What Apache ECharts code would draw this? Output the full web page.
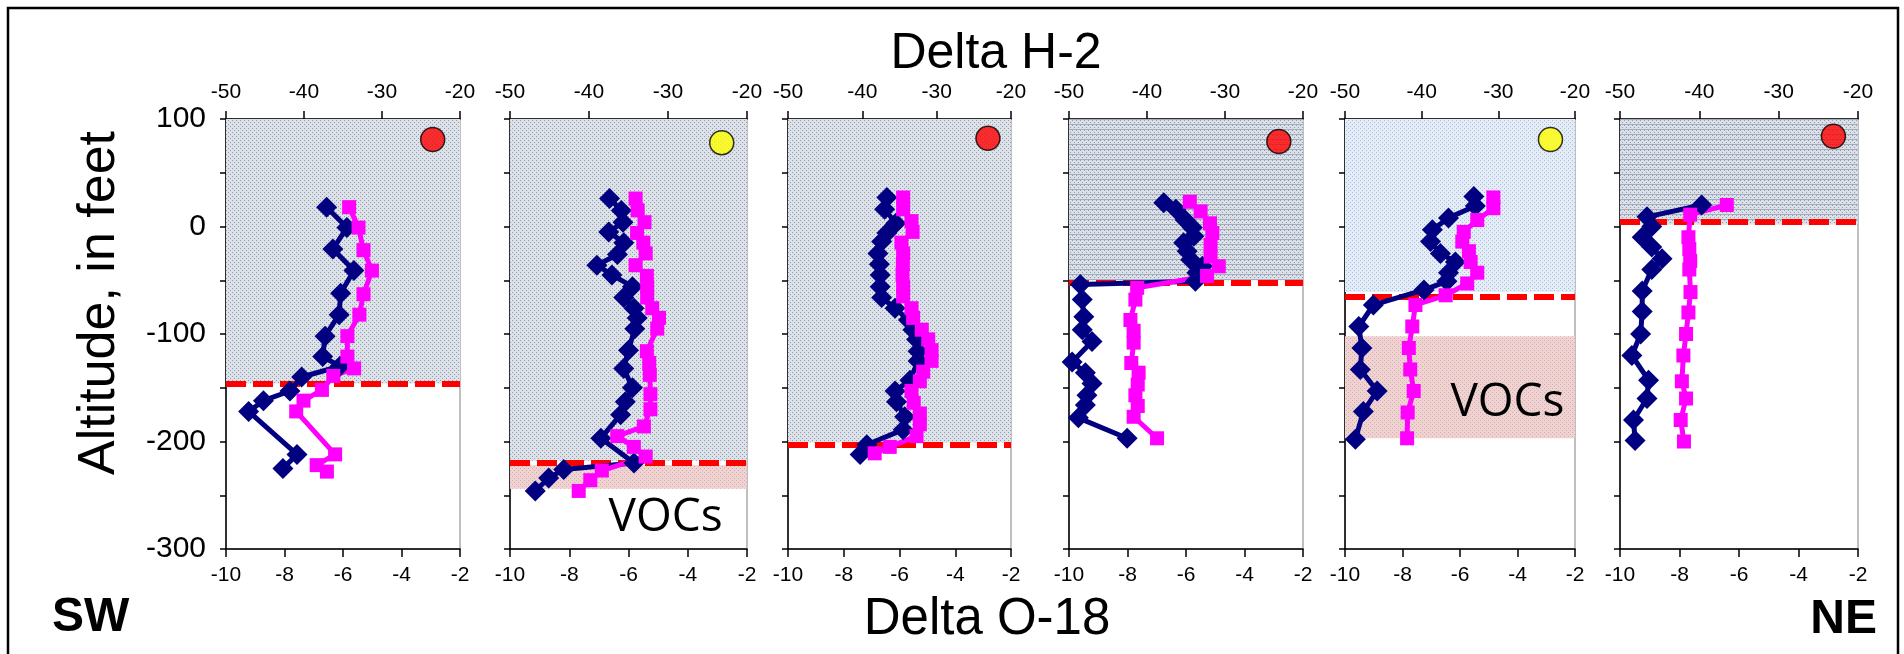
<!DOCTYPE html>
<html><head><meta charset="utf-8">
<script src="https://cdn.jsdelivr.net/npm/echarts@6.0.0/dist/echarts.min.js"></script>
<style>html,body{margin:0;padding:0;background:#fff}#c{width:1904px;height:654px}</style>
</head><body><div id="c"></div>
<script>
// ---------- DATA ----------
// Delta H-2 (top axis) vs altitude (ft) -- navy diamonds
const h2_p1 = [[-37.1,18],[-34.5,-1],[-36.3,-21],[-33.6,-41],[-35.3,-62],[-35.5,-82],[-37.3,-102],[-37.6,-121],[-35.4,-130],[-40.3,-140],[-41.8,-153],[-45.2,-162],[-47.1,-172],[-40.9,-212],[-42.7,-225]];
const h2_p2 = [[-37.4,26],[-35.9,15],[-35.7,4],[-37.5,-5],[-35.6,-15],[-36.4,-26],[-39.0,-36],[-37.1,-45],[-34.5,-56],[-35.6,-66],[-34.3,-76],[-33.9,-85],[-34.2,-95],[-35.0,-115],[-35.6,-132],[-34.5,-150],[-35.4,-163],[-36.0,-175],[-38.5,-197],[-34.3,-220],[-43.2,-226],[-45.1,-234],[-46.8,-246]];
const h2_p3 = [[-36.7,27],[-37.0,16],[-35.5,3],[-36.7,-6],[-37.4,-14],[-37.9,-25],[-37.7,-35],[-37.6,-45],[-37.6,-56],[-37.4,-66],[-35.6,-76],[-33.8,-87],[-33.2,-96],[-32.7,-105],[-32.5,-116],[-32.5,-125],[-33.6,-143],[-35.6,-153],[-35.4,-163],[-34.3,-177],[-34.5,-189],[-39.4,-203],[-40.3,-212]];
const h2_p4 = [[-37.85,22],[-36.3,16],[-35.1,6],[-34.2,-1],[-34.0,-9],[-35.3,-15],[-34.85,-23],[-34.4,-31],[-32.9,-37],[-33.6,-43],[-33.8,-51],[-48.55,-54],[-48.3,-68],[-48.1,-84],[-48.3,-96],[-47.05,-107],[-49.6,-126],[-47.9,-136],[-47.05,-146],[-47.7,-157],[-47.9,-166],[-48.8,-178],[-42.55,-197]];
const h2_p5 = [[-33.2,28],[-33.0,19],[-36.5,8],[-38.6,-3],[-38.85,-14],[-37.55,-25],[-35.6,-33],[-36.5,-43],[-36.7,-51],[-39.7,-59],[-46.3,-73],[-48.2,-93],[-47.8,-113],[-48.0,-133],[-45.8,-153],[-47.6,-172],[-48.65,-198]];
const h2_p6 = [[-39.7,20],[-46.6,9],[-46.0,0],[-47.2,-10],[-46.0,-19],[-44.7,-30],[-46.0,-40],[-47.2,-60],[-47.2,-79],[-47.4,-100],[-48.5,-120],[-46.4,-143],[-46.6,-160],[-48.3,-180],[-48.1,-199]];
// Delta O-18 (bottom axis) vs altitude (ft) -- magenta squares
const o18_p1 = [[-5.79,18],[-5.47,-1],[-5.30,-22],[-5.01,-41],[-5.30,-63],[-5.44,-82],[-5.85,-102],[-5.85,-121],[-5.62,-132],[-6.33,-139],[-6.72,-152],[-7.35,-162],[-7.60,-172],[-6.27,-212],[-6.9,-222],[-6.55,-228]];
const o18_p2 = [[-5.76,26],[-5.69,15],[-5.46,4],[-5.71,-6],[-5.50,-15],[-5.42,-25],[-5.76,-36],[-5.38,-46],[-5.37,-56],[-5.37,-66],[-5.2,-76],[-4.97,-85],[-5.03,-95],[-5.38,-116],[-5.3,-127],[-5.28,-138],[-5.26,-156],[-5.26,-170],[-5.48,-186],[-6.38,-195],[-5.82,-205],[-5.42,-214],[-6.9,-227],[-7.29,-236],[-7.68,-246]];
const o18_p3 = [[-5.87,27],[-5.87,16],[-5.57,5],[-5.53,-5],[-5.93,-15],[-5.87,-25],[-5.88,-35],[-5.89,-45],[-5.87,-56],[-5.87,-65],[-5.57,-76],[-5.51,-85],[-5.2,-96],[-4.97,-105],[-4.85,-115],[-4.85,-125],[-5.15,-135],[-5.27,-144],[-5.57,-153],[-5.49,-164],[-5.27,-174],[-5.27,-184],[-5.39,-195],[-6.35,-205],[-6.89,-211]];
const o18_p4 = [[-5.87,23],[-5.50,14],[-5.18,3],[-5.10,-6],[-5.16,-17],[-5.16,-28],[-4.88,-37],[-5.28,-46],[-7.67,-57],[-7.73,-68],[-7.90,-87],[-7.79,-97],[-7.79,-108],[-7.87,-127],[-7.62,-136],[-7.65,-147],[-7.73,-157],[-7.65,-167],[-7.79,-177],[-6.99,-197]];
const o18_p5 = [[-4.84,27],[-4.84,17],[-5.40,6],[-5.87,-5],[-5.92,-14],[-5.69,-23],[-5.63,-33],[-5.40,-43],[-5.75,-53],[-6.5,-64],[-7.55,-73],[-7.66,-93],[-7.78,-113],[-7.73,-133],[-7.61,-153],[-7.82,-173],[-7.84,-197]];
const o18_p6 = [[-6.41,20],[-7.64,11],[-7.70,-10],[-7.67,-21],[-7.64,-32],[-7.67,-40],[-7.63,-61],[-7.70,-80],[-7.78,-100],[-7.87,-120],[-7.92,-144],[-7.78,-160],[-7.96,-180],[-7.85,-200]];

const thresholds = [-146, -220, -203, -52, -65, 4];          // red dashed lines (ft)
const shadeBottoms = [-146, -218, -201, -50, -61, 2];        // shaded zone bottoms (ft)
const vocBands = [null, [-222, -244], null, null, [-102, -197], null];
const vocLabelAt = [null, [-4.75, -271], null, null, [-4.35, -164], null];
const circleColors = ['#ff0000', '#ffff00', '#ff0000', '#ff0000', '#ffff00', '#ff0000'];
const circleAt = [[-23.5, 81], [-23.2, 78], [-23.1, 82], [-23.1, 79], [-23.2, 81], [-23.1, 84]];

const h2Min = -50, h2Max = -20, h2Step = 10;
const o18Min = -10, o18Max = -2, o18Step = 2;
const altMin = -300, altMax = 100, altStep = 50;

// ---------- LAYOUT / STYLE ----------
const h2Sets = [h2_p1, h2_p2, h2_p3, h2_p4, h2_p5, h2_p6];
const o18Sets = [o18_p1, o18_p2, o18_p3, o18_p4, o18_p5, o18_p6];
const gridLeft = [226, 510, 788, 1069, 1345, 1620];
const gridWidth = [234, 237, 223, 234, 230, 238];
const gridTop = 119, gridHeight = 430;
const FONT = 'Liberation Sans';

function makePattern(base, dot, line) {
  const c = document.createElement('canvas');
  c.width = 4; c.height = line ? 5 : 4;
  const g = c.getContext('2d');
  g.fillStyle = base; g.fillRect(0, 0, c.width, c.height);
  g.fillStyle = dot;
  g.fillRect(0, 0, 1, 1); g.fillRect(2, 2, 1, 1);
  if (line) { g.fillStyle = line; g.fillRect(0, 4, 4, 1); }
  return {image: c, repeat: 'repeat'};
}
const patGrey = makePattern('#dde1e8', '#8f9bb0');
const patLined = makePattern('#dbe0e7', '#8f9bb0', '#a3adbf');
const patBlue = makePattern('#e4ecf7', '#a9bcd8');
const patVoc = makePattern('#efd2d2', '#d9abab');
const shadeFills = [patGrey, patGrey, patGrey, patLined, patBlue, patLined];

const grids = [], xAxes = [], yAxes = [], series = [];
for (let i = 0; i < 6; i++) {
  grids.push({left: gridLeft[i], top: gridTop, width: gridWidth[i], height: gridHeight,
    show: true, borderColor: '#aaaaaa', borderWidth: 1.5, backgroundColor: 'transparent'});
  xAxes.push({type: 'value', gridIndex: i, position: 'top', min: h2Min, max: h2Max, interval: h2Step,
    axisLine: {show: true, onZero: false, lineStyle: {color: '#000', width: 1.5}},
    axisTick: {show: true, inside: false, length: 8, lineStyle: {color: '#000', width: 1.5}},
    axisLabel: {color: '#000', fontSize: 21, fontFamily: FONT, margin: 16},
    splitLine: {show: false}});
  xAxes.push({type: 'value', gridIndex: i, position: 'bottom', min: o18Min, max: o18Max, interval: o18Step,
    axisLine: {show: true, onZero: false, lineStyle: {color: '#000', width: 1.5}},
    axisTick: {show: true, inside: false, length: 8, lineStyle: {color: '#000', width: 1.5}},
    axisLabel: {color: '#000', fontSize: 21, fontFamily: FONT, margin: 16},
    splitLine: {show: false}});
  yAxes.push({type: 'value', gridIndex: i, min: altMin, max: altMax, interval: altStep,
    axisLine: {show: true, onZero: false, lineStyle: {color: '#000', width: 1.5}},
    axisTick: {show: true, inside: false, length: 6, lineStyle: {color: '#000', width: 1.5}},
    axisLabel: {show: i === 0, color: '#000', fontSize: 30, fontFamily: FONT, margin: 20,
      padding: [8, 0, 0, 0],
      formatter: v => (v % 100 === 0 ? String(v) : '')},
    splitLine: {show: false}});

  const areas = [[{yAxis: altMax, itemStyle: {color: shadeFills[i]}}, {yAxis: shadeBottoms[i]}]];
  if (vocBands[i]) areas.push([{yAxis: vocBands[i][0], itemStyle: {color: patVoc}}, {yAxis: vocBands[i][1]}]);
  series.push({type: 'line', xAxisIndex: 2 * i + 1, yAxisIndex: i, data: [], silent: true,
    markArea: {silent: true, z: 1, itemStyle: {opacity: 1}, data: areas},
    markPoint: vocLabelAt[i] ? {silent: true, symbol: 'rect', symbolSize: 1, itemStyle: {color: 'rgba(0,0,0,0)'},
      label: {show: true, position: 'inside', formatter: 'VOCs', color: '#000', fontSize: 46, fontFamily: 'Open Sans'},
      data: [{coord: vocLabelAt[i]}]} : undefined});
  series.push({type: 'line', xAxisIndex: 2 * i + 1, yAxisIndex: i, data: [], silent: true,
    markLine: {silent: true, z: 2, symbol: 'none', label: {show: false},
      lineStyle: {color: '#ff0000', width: 6, type: [20, 7]},
      data: [{yAxis: thresholds[i]}]}});
  series.push({type: 'line', name: 'Delta H-2', xAxisIndex: 2 * i, yAxisIndex: i, z: 4,
    data: h2Sets[i], symbol: 'diamond', symbolSize: 21, showAllSymbol: true,
    lineStyle: {color: '#000080', width: 5}, itemStyle: {color: '#000080'}, animation: false});
  series.push({type: 'line', name: 'Delta O-18', xAxisIndex: 2 * i + 1, yAxisIndex: i, z: 4,
    data: o18Sets[i], symbol: 'rect', symbolSize: 14, showAllSymbol: true,
    lineStyle: {color: '#ff00ff', width: 5}, itemStyle: {color: '#ff00ff'}, animation: false});
  series.push({type: 'scatter', xAxisIndex: 2 * i, yAxisIndex: i, z: 6, symbolSize: 24,
    data: [circleAt[i]], itemStyle: {color: circleColors[i], borderColor: '#000', borderWidth: 1.5}, animation: false});
}

const chart = echarts.init(document.getElementById('c'), null, {renderer: 'canvas'});
chart.setOption({
  animation: false,
  backgroundColor: '#ffffff',
  grid: grids, xAxis: xAxes, yAxis: yAxes, series: series,
  graphic: [
    {type: 'rect', shape: {x: 8, y: 8, width: 1890, height: 660}, style: {fill: 'none', stroke: '#000', lineWidth: 2.5}, silent: true},
    {type: 'text', x: 996, y: 54, style: {text: 'Delta H-2', font: '50px "Liberation Sans"', fill: '#000', align: 'center', verticalAlign: 'middle'}},
    {type: 'text', x: 987, y: 620, style: {text: 'Delta O-18', font: '51px "Liberation Sans"', fill: '#000', align: 'center', verticalAlign: 'middle'}},
    {type: 'text', x: 100, y: 303, rotation: Math.PI / 2, style: {text: 'Altitude, in feet', font: '52px "Liberation Sans"', fill: '#000', align: 'center', verticalAlign: 'middle'}},
    {type: 'text', x: 52, y: 618, style: {text: 'SW', font: 'bold 48px "Liberation Sans"', fill: '#000', align: 'left', verticalAlign: 'middle'}},
    {type: 'text', x: 1877, y: 620, style: {text: 'NE', font: 'bold 48px "Liberation Sans"', fill: '#000', align: 'right', verticalAlign: 'middle'}}
  ]
});
</script></body></html>
